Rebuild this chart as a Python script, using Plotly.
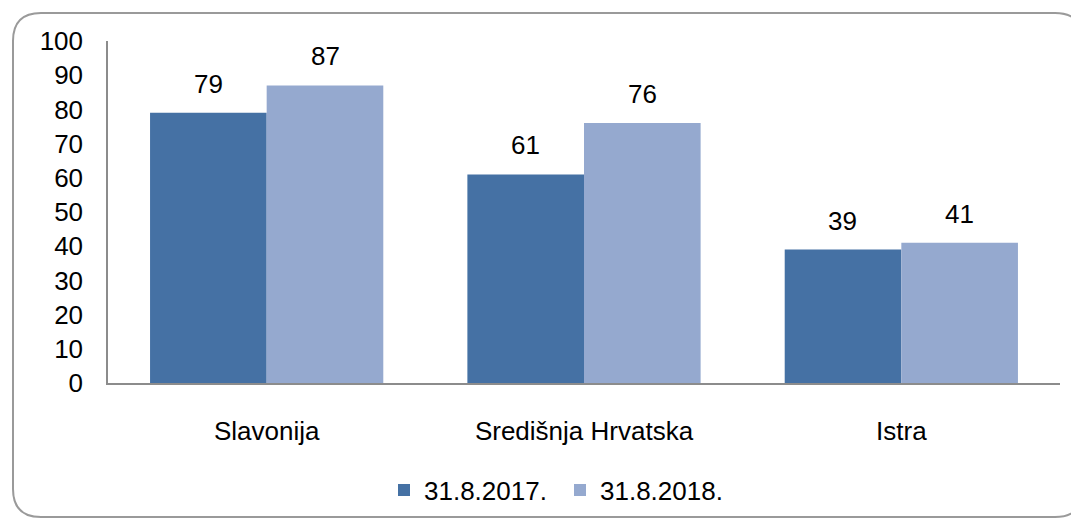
import plotly.graph_objects as go

categories = ["Slavonija", "Središnja Hrvatska", "Istra"]
series_names = ["31.8.2017.", "31.8.2018."]
values_2017 = [79, 61, 39]
values_2018 = [87, 76, 41]
y_ticks = [0, 10, 20, 30, 40, 50, 60, 70, 80, 90, 100]

colors = ["#4571A4", "#95A9CF"]
FONT = "Liberation Sans, Arial, sans-serif"
FS = 26

OFF = 8  # page body margin offset
W, H = 1079, 519
L, T = 108 - OFF, 41 - OFF
R = W - (1060 - OFF)
B = H - (383 - OFF)
pw, ph = W - L - R, H - T - B

def px(x):
    return (x - OFF - L) / pw

def py(y):
    return (H - B - (y - OFF)) / ph

fig = go.Figure()
for name, vals, col in zip(series_names, [values_2017, values_2018], colors):
    fig.add_trace(go.Bar(name=name, x=categories, y=vals, marker=dict(color=col, line=dict(width=0))))

annotations = []
for vals, shift in zip([values_2017, values_2018], [-58.5, 58.5]):
    for c, v in zip(categories, vals):
        annotations.append(dict(x=c, y=v, text=str(v), showarrow=False, xref="x", yref="y",
                                xshift=shift, yshift=12, yanchor="bottom",
                                font=dict(family=FONT, size=FS, color="#000000")))

# rounded frame
x0, x1, y0, y1, r = 13, 1083, 13, 517, 28
path = (f"M {px(x0)},{py(y0 + r)} Q {px(x0)},{py(y0)} {px(x0 + r)},{py(y0)} "
        f"L {px(x1 - r)},{py(y0)} Q {px(x1)},{py(y0)} {px(x1)},{py(y0 + r)} "
        f"L {px(x1)},{py(y1 - r)} Q {px(x1)},{py(y1)} {px(x1 - r)},{py(y1)} "
        f"L {px(x0 + r)},{py(y1)} Q {px(x0)},{py(y1)} {px(x0)},{py(y1 - r)} Z")

fig.update_layout(
    width=W, height=H,
    margin=dict(l=L, r=R, t=T, b=B, pad=0),
    paper_bgcolor="white", plot_bgcolor="white",
    barmode="group", bargap=0.265, bargroupgap=0,
    font=dict(family=FONT, size=FS, color="#000000"),
    xaxis=dict(showline=True, linecolor="#8C8C8C", linewidth=2, showgrid=False,
               ticks="", ticklabelstandoff=24, tickfont=dict(size=FS)),
    yaxis=dict(range=[0, 100], tickvals=y_ticks, showline=True, linecolor="#8C8C8C", linewidth=1.5,
               showgrid=False, zeroline=False, ticks="", ticklabelstandoff=18, tickfont=dict(size=FS)),
    legend=dict(orientation="h", x=px(384), xanchor="left", y=py(490), yanchor="middle",
                font=dict(size=FS), itemwidth=30, traceorder="normal", itemsizing="constant",
                entrywidth=131, entrywidthmode="pixels"),
    annotations=annotations,
    shapes=[dict(type="path", path=path, xref="paper", yref="paper",
                 line=dict(color="#9A9A9A", width=2), fillcolor="rgba(0,0,0,0)", layer="below")],
)

fig.write_html("out.html")
